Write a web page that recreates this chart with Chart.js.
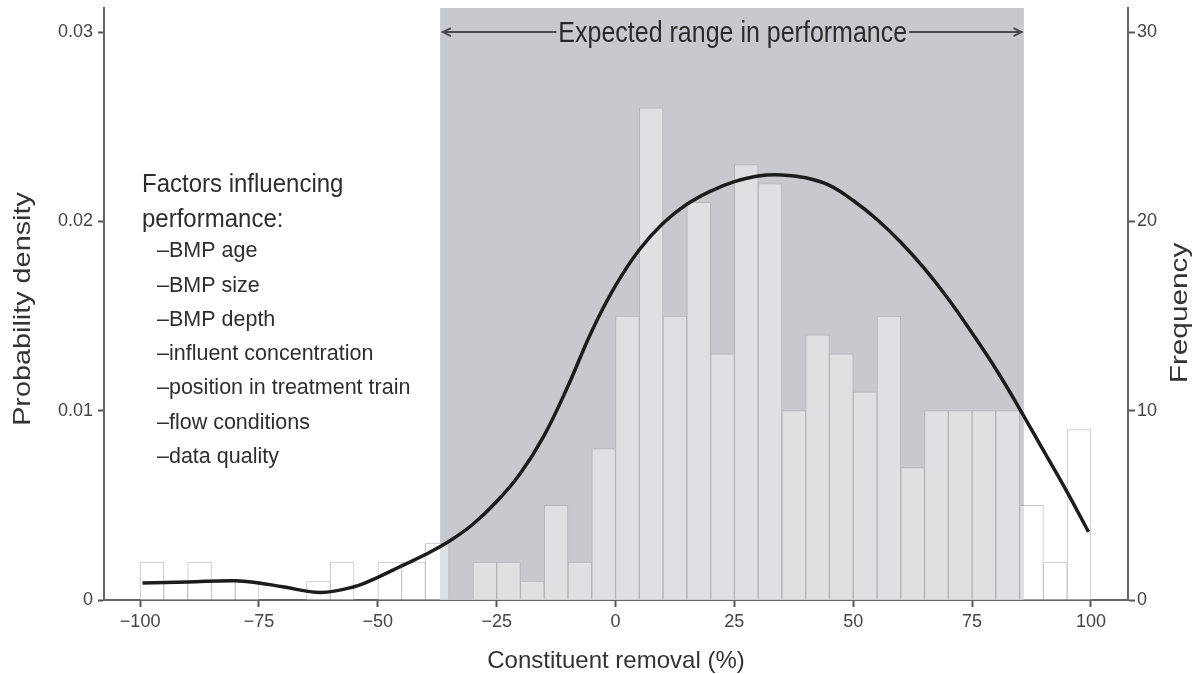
<!DOCTYPE html>
<html>
<head>
<meta charset="utf-8">
<script src="https://cdn.jsdelivr.net/npm/chart.js@4.4.1/dist/chart.umd.min.js"></script>
<style>
  html, body { margin: 0; padding: 0; background: #fff; }
  #wrap { width: 1193px; height: 674px; position: relative; }
</style>
</head>
<body>
<div id="wrap"><canvas id="chart"></canvas></div>
<script>
// histogram bins (centre of each 5 % bin) and their counts
const binCentres = [-97.5, -92.5, -87.5, -82.5, -77.5, -72.5, -67.5, -62.5, -57.5, -52.5,
                    -47.5, -42.5, -37.5, -32.5, -27.5, -22.5, -17.5, -12.5, -7.5, -2.5,
                    2.5, 7.5, 12.5, 17.5, 22.5, 27.5, 32.5, 37.5, 42.5, 47.5,
                    52.5, 57.5, 62.5, 67.5, 72.5, 77.5, 82.5, 87.5, 92.5, 97.5];
const binCounts = [2, 1, 2, 1, 1, 0, 0, 1, 2, 0,
                   2, 2, 3, 0, 2, 2, 1, 5, 2, 8,
                   15, 26, 15, 21, 13, 23, 22, 10, 14, 13,
                   11, 15, 7, 10, 10, 10, 10, 5, 2, 9];

// fitted probability density curve
const curveX = [-99.5, -90, -80, -75, -70, -62, -55, -50, -45, -40, -35, -30, -25, -20, -15, -10, -5,
                0, 5, 10, 15, 20, 25, 30, 35, 40, 45, 50, 55, 60, 65, 70, 75, 80, 85, 90, 95, 99.5];
const curveY = [0.0009, 0.00095, 0.00102, 0.0009, 0.0007, 0.0004, 0.0007, 0.0012, 0.0018, 0.0024, 0.0031, 0.004,
                0.0052, 0.0067, 0.0087, 0.0113, 0.0142, 0.0166, 0.0185, 0.0199, 0.0209, 0.0216, 0.0221,
                0.0224, 0.02245, 0.0223, 0.0219, 0.0211, 0.0201, 0.0189, 0.0175, 0.0159, 0.0141,
                0.0122, 0.0101, 0.0079, 0.0057, 0.0036];

// expected range band (in % removal)
const bandRange = [-36.9, 85.9];
const arrowRange = [-36.3, 85.4];

const xTicks = [-100, -75, -50, -25, 0, 25, 50, 75, 100];
const densityTicks = [0, 0.01, 0.02, 0.03];
const freqTicks = [0, 10, 20, 30];

const factorsTitle = ['Factors influencing', 'performance:'];
const factorsList = ['\u2013BMP age', '\u2013BMP size', '\u2013BMP depth', '\u2013influent concentration',
                     '\u2013position in treatment train', '\u2013flow conditions', '\u2013data quality'];

const FONT = "'Liberation Sans', Arial, Helvetica, sans-serif";
const BAND = '#c8c9cc';

function bandGradient(context, outside, inside) {
    const chart = context.chart;
    const area = chart.chartArea;
    if (!area || !chart.scales.x) return inside;
    const xs = chart.scales.x;
    const w = area.right - area.left;
    const p1 = Math.min(Math.max((xs.getPixelForValue(bandRange[0]) - area.left) / w, 0), 1);
    const p2 = Math.min(Math.max((xs.getPixelForValue(bandRange[1]) - area.left) / w, 0), 1);
    const g = chart.ctx.createLinearGradient(area.left, 0, area.right, 0);
    g.addColorStop(0, outside);
    g.addColorStop(p1, outside);
    g.addColorStop(p1, inside);
    g.addColorStop(p2, inside);
    g.addColorStop(p2, outside);
    g.addColorStop(1, outside);
    return g;
}

function drawStretched(ctx, text, x, y, rot, sx, sy) {
    ctx.save();
    ctx.translate(x, y);
    ctx.rotate(rot);
    ctx.scale(sx, sy);
    ctx.fillText(text, 0, 0);
    ctx.restore();
}

const decorations = {
    id: 'decorations',
    beforeDatasetsDraw(chart) {
        const {ctx, chartArea, scales} = chart;
        const a = scales.x.getPixelForValue(bandRange[0]);
        const b = scales.x.getPixelForValue(bandRange[1]);
        ctx.save();
        ctx.fillStyle = BAND;
        ctx.fillRect(a, chartArea.top, b - a, chartArea.bottom - chartArea.top);
        ctx.restore();
    },
    afterDatasetsDraw(chart) {
        const {ctx, chartArea, scales} = chart;
        ctx.save();

        // arrow with label
        const y = scales.density.getPixelForValue(0.0300);
        const x1 = scales.x.getPixelForValue(arrowRange[0]);
        const x2 = scales.x.getPixelForValue(arrowRange[1]);
        const label = 'Expected range in performance';
        ctx.font = '25px ' + FONT;
        const tw = ctx.measureText(label).width;
        const cx = (x1 + x2) / 2 + 0.5;
        ctx.strokeStyle = '#4a4a4a';
        ctx.lineWidth = 2;
        ctx.beginPath();
        ctx.moveTo(x1, y); ctx.lineTo(cx - tw / 2 - 2, y);
        ctx.moveTo(cx + tw / 2 + 2, y); ctx.lineTo(x2, y);
        ctx.moveTo(x1 + 8, y - 4); ctx.lineTo(x1, y); ctx.lineTo(x1 + 8, y + 4);
        ctx.moveTo(x2 - 8, y - 4); ctx.lineTo(x2, y); ctx.lineTo(x2 - 8, y + 4);
        ctx.stroke();
        ctx.fillStyle = '#2a2a2a';
        ctx.textAlign = 'center';
        ctx.textBaseline = 'middle';
        drawStretched(ctx, label, cx, y + 2, 0, 1, 1.2);

        // factors list
        ctx.textAlign = 'left';
        ctx.fillStyle = '#2e2e2e';
        ctx.font = '24px ' + FONT;
        const left = chartArea.left;
        const top = chartArea.top;
        drawStretched(ctx, factorsTitle[0], left + 38, top + 177, 0, 1, 1.05);
        drawStretched(ctx, factorsTitle[1], left + 38, top + 212, 0, 1, 1.05);
        ctx.font = '21.5px ' + FONT;
        factorsList.forEach((t, i) => {
            drawStretched(ctx, t, left + 53, top + 243 + i * 34.3, 0, 1, 1.05);
        });

        // axis titles (rotated, reading upwards)
        ctx.fillStyle = '#333';
        ctx.textAlign = 'center';
        ctx.font = '24px ' + FONT;
        const midY = (chartArea.top + chartArea.bottom) / 2 + 5;
        drawStretched(ctx, 'Probability density', 23, midY, -Math.PI / 2, 1.2, 1);
        drawStretched(ctx, 'Frequency', chart.width - 13, midY + 4, -Math.PI / 2, 1.24, 1);
        ctx.restore();
    }
};

const tickFont = {family: FONT, size: 18};

function noScalePadding(s) {
    s.paddingTop = 0;
    s.paddingBottom = 0;
    s.paddingLeft = 0;
    s.paddingRight = 0;
}

new Chart(document.getElementById('chart'), {
    type: 'bar',
    data: {
        datasets: [{
            type: 'line',
            data: curveX.map((x, i) => ({x: x, y: curveY[i]})),
            yAxisID: 'density',
            borderColor: '#1c1c1c',
            borderWidth: 3.5,
            pointRadius: 0,
            tension: 0.4,
            fill: false,
            order: 0
        }, {
            type: 'bar',
            data: binCentres.map((x, i) => ({x: x, y: binCounts[i]})),
            yAxisID: 'freq',
            barPercentage: 1,
            categoryPercentage: 1,
            borderWidth: 1,
            backgroundColor: c => bandGradient(c, '#ffffff', '#dfe0e2'),
            borderColor: c => bandGradient(c, '#c6c6c8', '#b3b4b7'),
            order: 1
        }]
    },
    options: {
        responsive: true,
        maintainAspectRatio: false,
        animation: false,
        layout: {padding: {top: 8, left: 0, right: 0, bottom: 0}},
        plugins: {legend: {display: false}, tooltip: {enabled: false}},
        scales: {
            x: {
                type: 'linear',
                position: 'bottom',
                min: -107.6,
                max: 107.8,
                offset: false,
                afterBuildTicks: s => { s.ticks = xTicks.map(v => ({value: v})); },
                afterFit: s => { s.height = 74; noScalePadding(s); },
                grid: {drawOnChartArea: false, offset: false, tickLength: 7, tickWidth: 2, tickColor: '#555'},
                border: {display: true, color: '#666', width: 2},
                ticks: {
                    font: tickFont, color: '#444', padding: 4, maxRotation: 0,
                    callback: v => v < 0 ? '\u2212' + Math.abs(v) : String(v)
                },
                title: {
                    display: true, text: 'Constituent removal (%)', color: '#333',
                    font: {family: FONT, size: 24}, padding: {top: 0, bottom: -2}
                }
            },
            density: {
                type: 'linear',
                position: 'left',
                min: 0,
                max: 0.03127,
                afterBuildTicks: s => { s.ticks = densityTicks.map(v => ({value: v})); },
                afterFit: s => { s.width = 104; noScalePadding(s); },
                grid: {drawOnChartArea: false, tickLength: 6, tickWidth: 2, tickColor: '#555'},
                border: {display: true, color: '#666', width: 2},
                ticks: {
                    font: tickFont, color: '#444', padding: 5,
                    callback: v => v === 0 ? '0' : v.toFixed(2)
                }
            },
            freq: {
                type: 'linear',
                position: 'right',
                min: 0,
                max: 31.27,
                afterBuildTicks: s => { s.ticks = freqTicks.map(v => ({value: v})); },
                afterFit: s => { s.width = 65; noScalePadding(s); },
                grid: {drawOnChartArea: false, tickLength: 7, tickWidth: 2, tickColor: '#555'},
                border: {display: true, color: '#666', width: 2},
                ticks: {font: tickFont, color: '#444', padding: 2}
            }
        }
    },
    plugins: [decorations]
});
</script>
</body>
</html>
